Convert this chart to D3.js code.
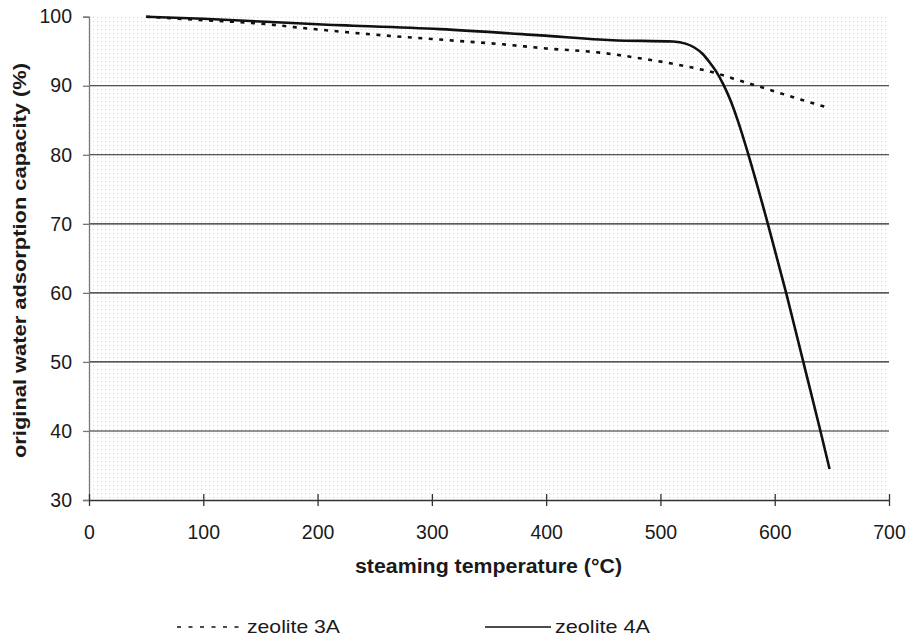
<!DOCTYPE html>
<html><head><meta charset="utf-8">
<script src="https://cdn.jsdelivr.net/npm/d3@7"></script>
<style>
html,body{margin:0;padding:0;background:#fff;}
text{font-family:"Liberation Sans",Arial,sans-serif;fill:#1a1a1a;}
</style></head>
<body>
<svg id="chart" width="913" height="637"></svg>
<script>
// Data
const temp3A = [50, 100, 150, 185, 250, 314, 362, 400, 447, 485, 520, 549, 572, 594, 613, 645];
const cap3A  = [100, 99.5, 99.0, 98.4, 97.4, 96.6, 96.0, 95.4, 94.8, 93.9, 92.9, 91.8, 90.6, 89.5, 88.5, 86.9];
const temp4A = [50, 100, 200, 307, 395, 458, 511, 522, 530, 537, 543, 549, 555, 561, 568, 577, 594, 610, 625, 640, 648];
const cap4A  = [100, 99.7, 98.9, 98.2, 97.3, 96.6, 96.4, 96.1, 95.5, 94.6, 93.4, 92.0, 90.2, 88.0, 84.8, 80.0, 70.0, 60.0, 50.0, 40.0, 34.5];
const xTicks = [0, 100, 200, 300, 400, 500, 600, 700];
const yTicks = [30, 40, 50, 60, 70, 80, 90, 100];
const seriesNames = ["zeolite 3A", "zeolite 4A"];
const xTitle = "steaming temperature (°C)";
const yTitle = "original water adsorption capacity (%)";

(function () {
const svg = d3.select("#chart");
const mL = 89, mR = 889, mT = 16.7, mB = 500;
const x = d3.scaleLinear().domain([0, 700]).range([mL, mR]);
const y = d3.scaleLinear().domain([30, 100]).range([mB, mT]);
const FF = '"Liberation Sans",Arial,sans-serif';

// halftone background pattern
const defs = svg.append("defs");
const pat = defs.append("pattern").attr("id", "dots").attr("patternUnits", "userSpaceOnUse")
  .attr("width", 4).attr("height", 4);
pat.append("rect").attr("x", 1).attr("y", 1).attr("width", 1).attr("height", 1).attr("fill", "#d2d2d2");
svg.append("rect").attr("x", mL).attr("y", mT).attr("width", mR - mL).attr("height", mB - mT)
  .attr("fill", "url(#dots)");

// horizontal gridlines
svg.append("g").selectAll("line").data(yTicks.filter(d => d > 30 && d < 100)).join("line")
  .attr("x1", mL).attr("x2", mR).attr("y1", d => y(d)).attr("y2", d => y(d))
  .attr("stroke", "#222").attr("stroke-width", 1.1);

// y axis
const yAxis = svg.append("g").attr("transform", `translate(${mL},0)`)
  .call(d3.axisLeft(y).tickValues(yTicks).tickSize(6).tickPadding(11).tickFormat(d3.format("d")));
yAxis.select(".domain").attr("stroke", "#777").attr("stroke-width", 1.3);
yAxis.selectAll(".tick line").attr("stroke", "#777").attr("stroke-width", 1.3);
yAxis.selectAll("text").attr("font-size", 19.5).attr("fill", "#1a1a1a").style("font-family", FF);

// x axis
const xAxis = svg.append("g").attr("transform", `translate(0,${mB})`)
  .call(d3.axisBottom(x).tickValues(xTicks).tickSizeInner(6).tickSizeOuter(0).tickPadding(19).tickFormat(d3.format("d")));
xAxis.select(".domain").attr("stroke", "#333").attr("stroke-width", 1.3);
xAxis.selectAll(".tick line").attr("stroke", "#333").attr("stroke-width", 1.3).attr("y1", -6);
xAxis.selectAll("text").attr("font-size", 19.5).attr("fill", "#1a1a1a").style("font-family", FF);

// lines
const line = d3.line().x(d => x(d[0])).y(d => y(d[1])).curve(d3.curveMonotoneX);
const d3A = temp3A.map((t, i) => [t, cap3A[i]]);
const d4A = temp4A.map((t, i) => [t, cap4A[i]]);
svg.append("path").attr("d", line(d3A)).attr("fill", "none").attr("stroke", "#111")
  .attr("stroke-width", 2.6).attr("stroke-dasharray", "4,6.5");
svg.append("path").attr("d", line(d4A)).attr("fill", "none").attr("stroke", "#111")
  .attr("stroke-width", 2.6);

// axis titles
svg.append("text").attr("x", 355).attr("y", 573)
  .attr("font-size", 19.5).attr("font-weight", "bold")
  .attr("textLength", 267).attr("lengthAdjust", "spacingAndGlyphs").text(xTitle);
svg.append("text").attr("transform", `translate(26,458) rotate(-90)`)
  .attr("font-size", 19).attr("font-weight", "bold")
  .attr("textLength", 395).attr("lengthAdjust", "spacingAndGlyphs").text(yTitle);

// legend
const lg = svg.append("g");
lg.append("line").attr("x1", 177).attr("x2", 244).attr("y1", 627).attr("y2", 627)
  .attr("stroke", "#111").attr("stroke-width", 1.6).attr("stroke-dasharray", "4,7.5");
lg.append("text").attr("x", 247).attr("y", 633).attr("font-size", 19)
  .attr("textLength", 93).attr("lengthAdjust", "spacingAndGlyphs").text(seriesNames[0]);
lg.append("line").attr("x1", 485).attr("x2", 551).attr("y1", 627).attr("y2", 627)
  .attr("stroke", "#111").attr("stroke-width", 1.6);
lg.append("text").attr("x", 555).attr("y", 633).attr("font-size", 19)
  .attr("textLength", 95).attr("lengthAdjust", "spacingAndGlyphs").text(seriesNames[1]);
})();
</script>
</body></html>
